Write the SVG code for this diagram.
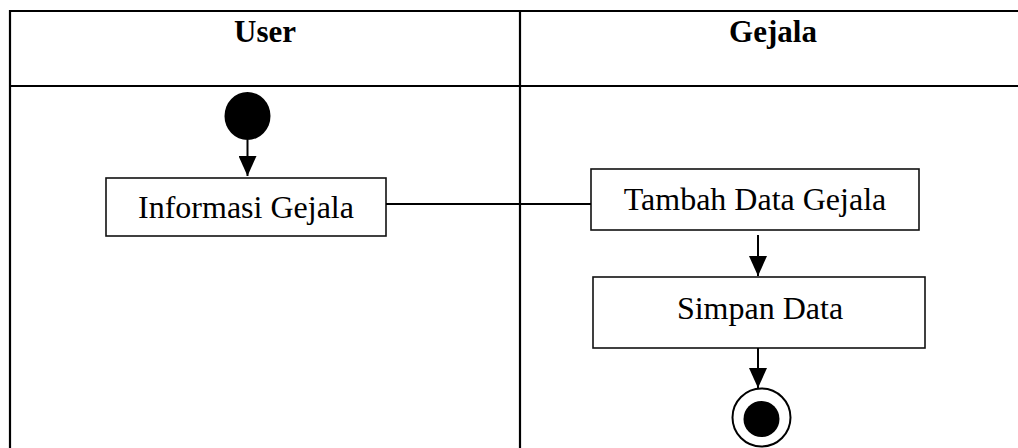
<svg xmlns="http://www.w3.org/2000/svg" width="1018" height="448" viewBox="0 0 1018 448">
<style>
.lane{stroke:#000;stroke-width:2.2;fill:none}
.box{fill:#fff;stroke:#111;stroke-width:1.6}
.lbl{font-family:"Liberation Serif","Times New Roman",serif;font-size:32px;fill:#000;text-anchor:middle}
.hdr{font-family:"Liberation Serif","Times New Roman",serif;font-size:31px;font-weight:bold;fill:#000;text-anchor:middle}
.edge{stroke:#000;stroke-width:2;fill:none}
</style>
<defs>
<marker id="arr" viewBox="0 0 20 18" refX="20" refY="9" markerWidth="20" markerHeight="18" markerUnits="userSpaceOnUse" orient="auto">
<path d="M0,0 L20,9 L0,18 Z" fill="#000"/>
</marker>
</defs>
<g id="swimlanes">
<line class="lane" x1="10" y1="11" x2="1018" y2="11"/>
<line class="lane" x1="10" y1="86" x2="1018" y2="86"/>
<line class="lane" x1="10" y1="10" x2="10" y2="448"/>
<line class="lane" x1="520" y1="10" x2="520" y2="448"/>
<text class="hdr" x="265" y="42">User</text>
<text class="hdr" x="773" y="42">Gejala</text>
</g>
<g id="start">
<ellipse cx="247.5" cy="116" rx="23" ry="24" fill="#000"/>
</g>
<g id="informasi">
<rect class="box" x="106" y="178" width="280" height="58"/>
<text class="lbl" x="246" y="218">Informasi Gejala</text>
</g>
<g id="tambah">
<rect class="box" x="591" y="169" width="328" height="61"/>
<text class="lbl" x="755" y="210">Tambah Data Gejala</text>
</g>
<g id="simpan">
<rect class="box" x="593" y="277" width="332" height="71"/>
<text class="lbl" x="760" y="319">Simpan Data</text>
</g>
<g id="end">
<circle cx="761.5" cy="417.5" r="29" fill="#fff" stroke="#000" stroke-width="2"/>
<circle cx="761.5" cy="419" r="18" fill="#000"/>
</g>
<g id="connectors">
<line class="edge" x1="247.5" y1="140" x2="247.5" y2="176" marker-end="url(#arr)"/>
<line class="edge" x1="386" y1="204" x2="591" y2="204"/>
<line class="edge" x1="758" y1="235" x2="758" y2="276" marker-end="url(#arr)"/>
<line class="edge" x1="758" y1="348" x2="758" y2="388" marker-end="url(#arr)"/>
</g>
</svg>
